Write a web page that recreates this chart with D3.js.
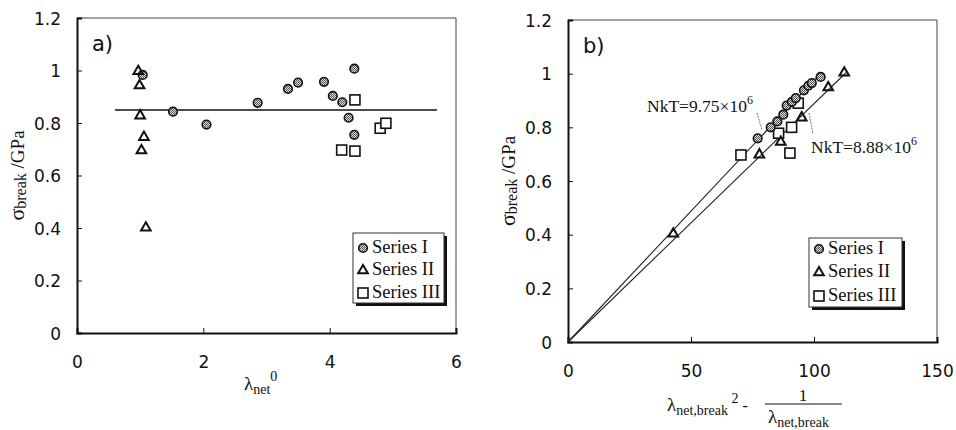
<!DOCTYPE html>
<html>
<head>
<meta charset="utf-8">
<script src="https://cdn.jsdelivr.net/npm/d3@7"></script>
<style>
  html, body { margin: 0; padding: 0; background: #fff; }
  svg { display: block; }
  .tick-label { font-family: "DejaVu Sans", sans-serif; font-size: 17px; fill: #111; }
  .serif { font-family: "Liberation Serif", "Times New Roman", serif; fill: #111; }
</style>
</head>
<body>
<svg id="chart" width="956" height="430"></svg>
<script>
// ---------- data ----------
const yTicks = [0, 0.2, 0.4, 0.6, 0.8, 1, 1.2];
const xTicksA = [0, 2, 4, 6];
const xTicksB = [0, 50, 100, 150];
const seriesNames = ["Series I", "Series II", "Series III"];

// panel a): breaking stress vs initial network stretch
const aSeriesI = [[1.04, 0.983], [1.52, 0.843], [2.05, 0.794], [2.86, 0.877], [3.34, 0.93],
  [3.50, 0.954], [3.91, 0.957], [4.05, 0.903], [4.20, 0.879], [4.39, 1.007], [4.30, 0.82], [4.39, 0.755]];
const aSeriesII = [[0.97, 0.999], [0.99, 0.945], [1.0, 0.83], [1.06, 0.748], [1.02, 0.697], [1.09, 0.403]];
const aSeriesIII = [[4.40, 0.888], [4.19, 0.697], [4.40, 0.693], [4.80, 0.78], [4.89, 0.799]];
const meanStress = 0.85;
const meanRange = [0.6, 5.7];

// panel b): breaking stress vs lambda^2 - 1/lambda at break
const bSeriesI = [[77.1, 0.759], [82.4, 0.80], [85.1, 0.822], [87.5, 0.847], [88.9, 0.881],
  [91.0, 0.895], [92.6, 0.909], [95.9, 0.938], [97.7, 0.955], [99.1, 0.965], [102.7, 0.988]];
const bSeriesII = [[112.3, 1.005], [105.8, 0.95], [95.0, 0.838], [86.5, 0.747], [77.8, 0.70], [42.8, 0.405]];
const bSeriesIII = [[93.6, 0.89], [90.9, 0.80], [85.6, 0.778], [70.3, 0.697], [90.2, 0.704]];
const fitNkT = [9.75e6, 8.88e6];        // Pa
const fitXEnd = [102.5, 113];
const fitLabels = ["NkT=9.75×10", "NkT=8.88×10"];

// ---------- drawing ----------
const svg = d3.select("#chart");

const defs = svg.append("defs");
const pat = defs.append("pattern").attr("id", "hatch").attr("patternUnits", "userSpaceOnUse")
  .attr("width", 2).attr("height", 2);
pat.append("rect").attr("width", 2).attr("height", 2).attr("fill", "#ddd");
pat.append("rect").attr("width", 1).attr("height", 1).attr("fill", "#555");
pat.append("rect").attr("x", 1).attr("y", 1).attr("width", 1).attr("height", 1).attr("fill", "#555");

function drawMarker(g, type, x, y) {
  if (type === 0) {
    g.append("circle").attr("cx", x).attr("cy", y).attr("r", 4.3)
      .attr("fill", "url(#hatch)").attr("stroke", "#111").attr("stroke-width", 1.6);
  } else if (type === 1) {
    g.append("path").attr("d", d3.symbol(d3.symbolTriangle, 40)())
      .attr("transform", `translate(${x},${y + 0.5})`)
      .attr("fill", "none").attr("stroke", "#111").attr("stroke-width", 2);
  } else {
    g.append("rect").attr("x", x - 5).attr("y", y - 5).attr("width", 10).attr("height", 10)
      .attr("fill", "#fff").attr("stroke", "#111").attr("stroke-width", 1.6);
  }
}

const fmt = d => String(+d.toFixed(1));

function panel(opt) {
  const { left, right, top, bottom, xDomain, xTicks, label } = opt;
  const x = d3.scaleLinear().domain(xDomain).range([left, right]);
  const y = d3.scaleLinear().domain([0, 1.2]).range([bottom, top]);
  const g = svg.append("g");

  // frame: thin top/right, heavy left/bottom
  g.append("line").attr("x1", left).attr("x2", right).attr("y1", top).attr("y2", top)
    .attr("stroke", "#444").attr("stroke-width", 1);
  g.append("line").attr("x1", right).attr("x2", right).attr("y1", top).attr("y2", bottom)
    .attr("stroke", "#444").attr("stroke-width", 1);

  const yAxis = d3.axisLeft(y).tickValues(yTicks).tickSize(-5).tickPadding(16).tickFormat(fmt);
  const ya = g.append("g").attr("transform", `translate(${left},0)`).call(yAxis);
  ya.select(".domain").attr("stroke", "#111").attr("stroke-width", 2);
  ya.selectAll(".tick line").attr("stroke", "#111");
  ya.selectAll(".tick text").attr("class", "tick-label").attr("dy", "0.36em");

  const xAxis = d3.axisBottom(x).tickValues(xTicks).tickSize(-5).tickPadding(23).tickFormat(fmt);
  const xa = g.append("g").attr("transform", `translate(0,${bottom})`).call(xAxis);
  xa.select(".domain").attr("stroke", "#111").attr("stroke-width", 2);
  xa.selectAll(".tick line").attr("stroke", "#111");
  xa.selectAll(".tick text").attr("class", "tick-label");

  // panel tag
  g.append("text").attr("x", left + 15).attr("y", top + 33).attr("class", "tick-label")
    .style("font-size", "21px").text(label);

  // y title
  const yt = g.append("text").attr("class", "serif")
    .attr("transform", `translate(${opt.yTitleX},${(top + bottom) / 2}) rotate(-90)`)
    .attr("text-anchor", "middle").style("font-size", "19px");
  yt.append("tspan").style("font-size", "22px").text("σ");
  yt.append("tspan").attr("dy", 2).style("font-size", "16px").text("break");
  yt.append("tspan").attr("dy", -2).text(" /GPa");

  return { g, x, y };
}

function legend(g, lx, ly, w, h, rowY) {
  g.append("rect").attr("x", lx + 3).attr("y", ly + 3).attr("width", w).attr("height", h).attr("fill", "#111");
  g.append("rect").attr("x", lx).attr("y", ly).attr("width", w).attr("height", h)
    .attr("fill", "#fff").attr("stroke", "#333").attr("stroke-width", 1);
  seriesNames.forEach((name, i) => {
    drawMarker(g, i, lx + 10, ly + rowY[i] - 5);
    g.append("text").attr("class", "serif").attr("x", lx + 19).attr("y", ly + rowY[i])
      .style("font-size", "18.5px").text(name);
  });
}

// ----- panel a -----
const A = panel({ left: 77, right: 456, top: 18, bottom: 333, xDomain: [0, 6], xTicks: xTicksA,
  label: "a)", yTitleX: 24 });
A.g.append("line").attr("x1", A.x(meanRange[0])).attr("x2", A.x(meanRange[1]))
  .attr("y1", A.y(meanStress)).attr("y2", A.y(meanStress)).attr("stroke", "#111").attr("stroke-width", 1.5);
aSeriesI.forEach(d => drawMarker(A.g, 0, A.x(d[0]), A.y(d[1])));
aSeriesII.forEach(d => drawMarker(A.g, 1, A.x(d[0]), A.y(d[1])));
aSeriesIII.forEach(d => drawMarker(A.g, 2, A.x(d[0]), A.y(d[1])));
legend(A.g, 353, 233, 91, 70, [20, 42, 65]);

const ax = A.g.append("text").attr("class", "serif").attr("x", 244).attr("y", 390).style("font-size", "19px");
ax.append("tspan").text("λ");
ax.append("tspan").attr("dy", 4).style("font-size", "14px").text("net");
ax.append("tspan").attr("dy", -13).style("font-size", "14px").text("0");

// ----- panel b -----
const B = panel({ left: 568, right: 937, top: 20, bottom: 342, xDomain: [0, 150], xTicks: xTicksB,
  label: "b)", yTitleX: 515 });
fitNkT.forEach((n, i) => {
  const slope = n / 1e9;  // GPa per unit strain function
  B.g.append("line").attr("x1", B.x(0)).attr("y1", B.y(0))
    .attr("x2", B.x(fitXEnd[i])).attr("y2", B.y(slope * fitXEnd[i]))
    .attr("stroke", "#222").attr("stroke-width", 1.1);
});
bSeriesIII.forEach(d => drawMarker(B.g, 2, B.x(d[0]), B.y(d[1])));
bSeriesII.forEach(d => drawMarker(B.g, 1, B.x(d[0]), B.y(d[1])));
bSeriesI.forEach(d => drawMarker(B.g, 0, B.x(d[0]), B.y(d[1])));

// fit annotations with leader lines
const annPos = [[647, 112], [811, 153]];
const leaders = [[[757, 113], [762, 130]], [[809, 113], [813, 134]]];
fitLabels.forEach((t, i) => {
  const tx = B.g.append("text").attr("class", "serif").attr("x", annPos[i][0]).attr("y", annPos[i][1])
    .style("font-size", "17.5px");
  tx.append("tspan").text(t);
  tx.append("tspan").attr("dy", -8).style("font-size", "12px").text("6");
  B.g.append("line").attr("x1", leaders[i][0][0]).attr("y1", leaders[i][0][1])
    .attr("x2", leaders[i][1][0]).attr("y2", leaders[i][1][1])
    .attr("stroke", "#555").attr("stroke-width", 0.8).attr("stroke-dasharray", "2,1");
});
legend(B.g, 809, 238, 93, 69, [16, 39, 63]);

// x title: lambda^2 - 1/lambda
const bx = B.g.append("g");
const bt = bx.append("text").attr("class", "serif").attr("x", 667).attr("y", 411).style("font-size", "19px");
bt.append("tspan").text("λ");
bt.append("tspan").attr("dy", 4).style("font-size", "14px").text("net,break");
bt.append("tspan").attr("dy", -12).style("font-size", "14px").text(" 2");
bt.append("tspan").attr("dy", 8).style("font-size", "16px").text(" -");
bx.append("line").attr("x1", 765).attr("x2", 842).attr("y1", 404).attr("y2", 404)
  .attr("stroke", "#111").attr("stroke-width", 1);
bx.append("text").attr("class", "serif").attr("x", 803).attr("y", 401).attr("text-anchor", "middle")
  .style("font-size", "17px").text("1");
const bd = bx.append("text").attr("class", "serif").attr("x", 768).attr("y", 423).style("font-size", "19px");
bd.append("tspan").text("λ");
bd.append("tspan").attr("dy", 4).style("font-size", "14px").text("net,break");
</script>
</body>
</html>
